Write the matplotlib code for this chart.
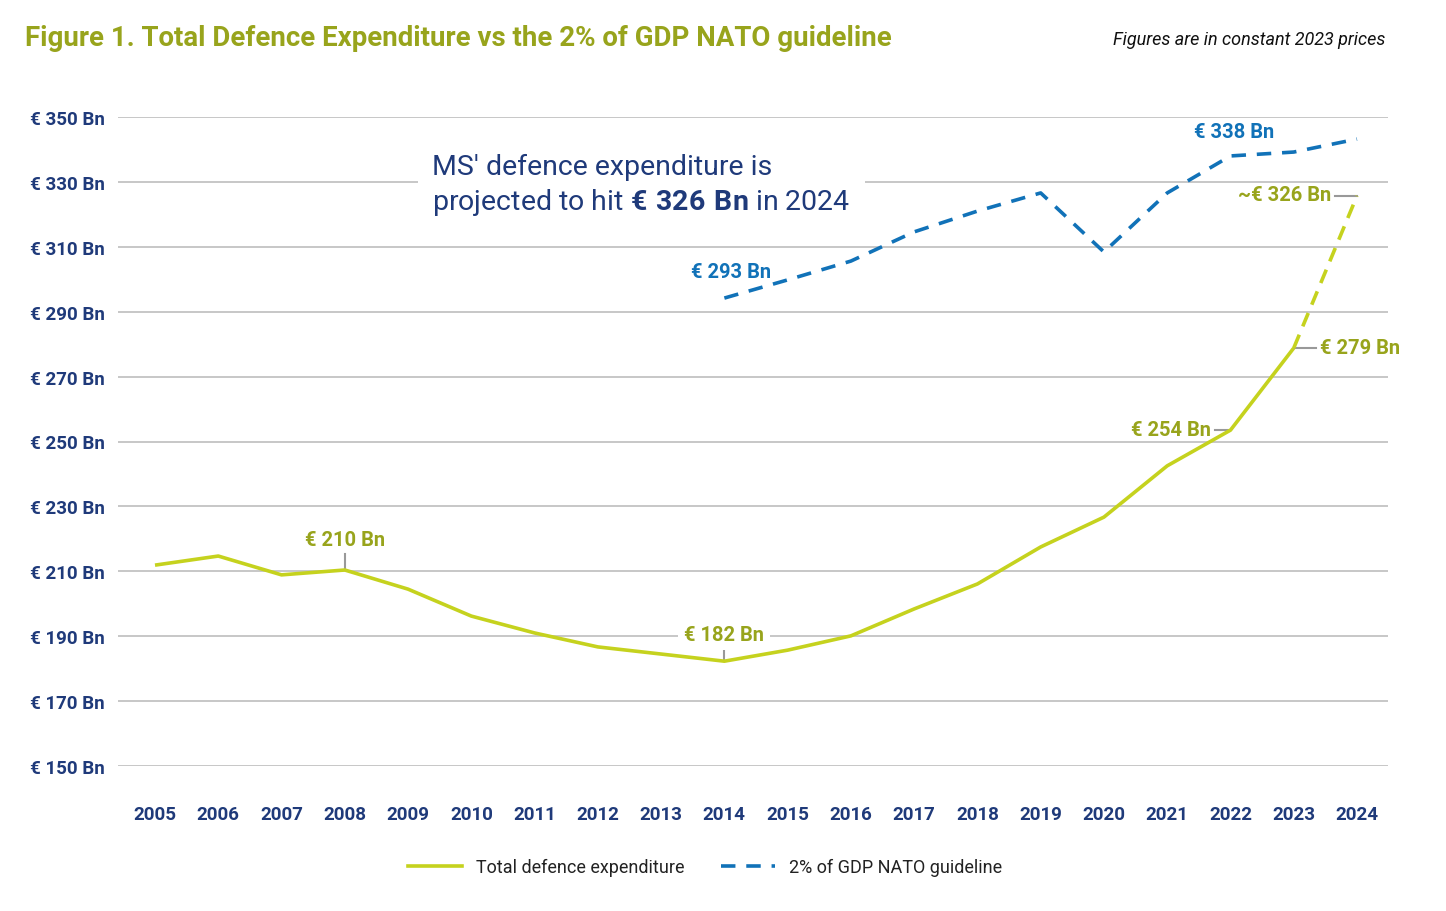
import matplotlib
matplotlib.use("Agg")
import matplotlib.pyplot as plt
from matplotlib.lines import Line2D

years = list(range(2005, 2025))
total = [211.9, 214.7, 208.9, 210.4, 204.5, 196.2, 191.0, 186.7, 184.5, 182.3,
         185.7, 190.1, 198.4, 206.1, 217.5, 226.7, 242.5, 253.5, 278.8, 325.7]
nato_years = list(range(2014, 2025))
nato = [294.2, 299.8, 305.6, 314.6, 321.0, 326.6, 308.4, 326.6, 338.0, 339.2, 343.2]
yticks = [150, 170, 190, 210, 230, 250, 270, 290, 310, 330, 350]
ytick_labels = ["€ %d Bn" % v for v in yticks]

LIME = "#c5d21e"
OLIVE = "#98a41c"
BLUE = "#1172b8"
NAVY = "#1f3a7a"
GRID = "#bdbdbd"

plt.rcParams['font.family'] = ['Roboto', 'DejaVu Sans']
plt.rcParams['mathtext.fontset'] = 'custom'
plt.rcParams['mathtext.rm'] = 'Roboto'
plt.rcParams['mathtext.bf'] = 'Roboto:bold'

fig = plt.figure(figsize=(14.46, 9.12), dpi=100)
ax = fig.add_axes([118/1446, 1-767/912, (1388-118)/1446, (767-118)/912])
ax.set_xlim(2005 - 37/63.26, 2024 + 31/63.26)
ax.set_ylim(150, 350)
for s in ax.spines.values():
    s.set_visible(False)
for v in yticks:
    ax.axhline(v, color=GRID, lw=1.2, zorder=1)

# Total (solid up to 2023, dashed to 2024)
ax.plot(years[:-1], total[:-1], color=LIME, lw=2.6, zorder=3, solid_capstyle='butt')
ax.plot(years[-2:], total[-2:], color=LIME, lw=2.6, ls=(0, (4, 2.5)), zorder=3)
ax.plot(nato_years, nato, color=BLUE, lw=2.6, ls=(0, (4, 3)), zorder=3)

ax.set_yticks(yticks)
ax.set_yticklabels(ytick_labels)
ax.set_xticks(years)
ax.set_xticklabels([str(y) for y in years])
ax.tick_params(axis='y', length=0, pad=9.5, labelsize=13.5, labelcolor=NAVY)
ax.tick_params(axis='x', length=0, pad=28, labelsize=13.5, labelcolor=NAVY)
for lab in ax.get_yticklabels() + ax.get_xticklabels():
    lab.set_fontweight('bold')

def lab(x, y, txt, color, **kw):
    ax.text(x, y, txt, color=color, fontsize=14.5, fontweight='bold', zorder=5, **kw)

# 2008 label
i = years.index(2008)
ax.plot([2008, 2008], [total[i], total[i] + 5], color="#999999", lw=1.5, zorder=2)
lab(2008, total[i] + 6.5, "€ 210 Bn", OLIVE, ha='center', va='bottom')
# 2014 label
i = years.index(2014)
ax.plot([2014, 2014], [total[i], total[i] + 4.5], color="#999999", lw=1.5, zorder=2)
lab(2014, 190.4, "€ 182 Bn", OLIVE, ha='center', va='center',
    bbox=dict(boxstyle='square,pad=0.3', fc='white', ec='none'))
# 2022 label
i = years.index(2022)
ax.plot([2021.75, 2022], [total[i], total[i]], color="#999999", lw=1.5, zorder=2)
lab(2021.7, total[i] + 0.3, "€ 254 Bn", OLIVE, ha='right', va='center')
# 2023 label
i = years.index(2023)
ax.plot([2023, 2023.35], [total[i], total[i]], color="#999999", lw=1.5, zorder=2)
lab(2023.42, total[i] + 0.3, "€ 279 Bn", OLIVE, ha='left', va='center')
# 2024 label
i = years.index(2024)
ax.plot([2023.65, 2024], [total[i], total[i]], color="#999999", lw=1.5, zorder=2)
lab(2023.6, total[i] + 0.3, "~€ 326 Bn", OLIVE, ha='right', va='center')
# NATO labels
lab(2014.1, 302.5, "€ 293 Bn", BLUE, ha='center', va='center')
lab(2022.06, 345.4, "€ 338 Bn", BLUE, ha='center', va='center')

# Callout
fig.text(432/1446, 1-186/912,
         "MS' defence expenditure is\nprojected to hit $\\mathbf{€\\ 326\\ Bn}$ in 2024",
         color=NAVY, fontsize=20.5, ha='left', va='center', linespacing=1.3,
         bbox=dict(boxstyle='square,pad=0.5', fc='white', ec='none'), zorder=10)

# Title and note
fig.text(25/1446, 1-38/912, "Figure 1. Total Defence Expenditure vs the 2% of GDP NATO guideline",
         color=OLIVE, fontsize=19.9, fontweight='bold', ha='left', va='center')
fig.text(1385/1446, 1-40/912, "Figures are in constant 2023 prices", color="#111111",
         fontsize=13, style='italic', ha='right', va='center')

handles = [Line2D([0], [0], color=LIME, lw=2.6),
           Line2D([0], [0], color=BLUE, lw=2.6, ls=(0, (4, 3)))]
fig.legend(handles, ["Total defence expenditure", "2% of GDP NATO guideline"],
           loc='center', bbox_to_anchor=(705/1446, 1-868/912), ncol=2, frameon=False,
           fontsize=13, handlelength=3, columnspacing=2.0, labelcolor="#222222")

fig.savefig("out.png", dpi=100)
